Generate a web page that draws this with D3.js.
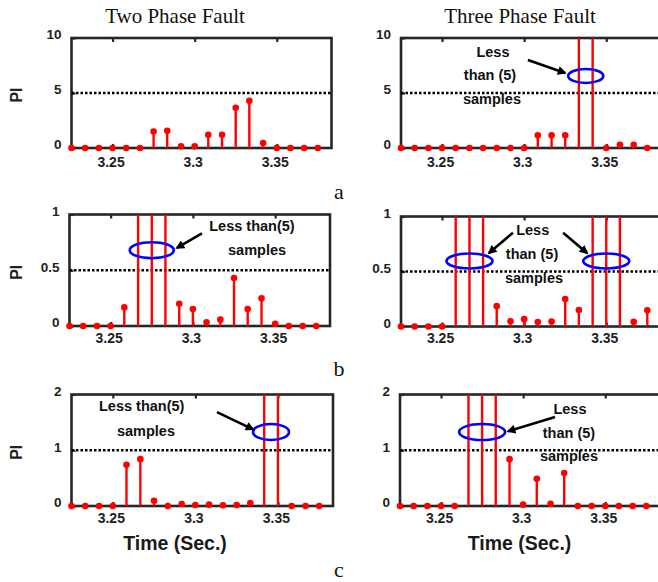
<!DOCTYPE html>
<html>
<head>
<meta charset="utf-8">
<script src="https://cdn.jsdelivr.net/npm/d3@7"></script>
<style>
    body { margin: 0; background: #fff; }
    svg { display: block; }
</style>
</head>
<body>
<div id="drawing_region"></div>
<script>
// sample instants (s)
const sampleTimes = [3.225, 3.2333, 3.2417, 3.25, 3.2583, 3.2667, 3.275, 3.2833, 3.2917, 3.3,
                     3.3083, 3.3167, 3.325, 3.3333, 3.3417, 3.35, 3.3583, 3.3667, 3.375];
const xTicks = [3.25, 3.3, 3.35];
const xTickLabels = ['3.25', '3.3', '3.35'];

// PI values, bars that leave the axis are given a value above its top
const twoPhaseA   = [0, 0, 0, 0, 0, 0, 1.5, 1.57, 0.15, 0.15, 1.2, 1.2, 3.65, 4.3, 0.45, 0, 0, 0, 0];
const threePhaseA = [0, 0, 0, 0, 0, 0, 0, 0, 0, 0, 1.15, 1.15, 1.15, 20, 20, 0, 0.3, 0.3, 0];
const twoPhaseB   = [0, 0, 0, 0, 0.167, 3, 3, 3, 0.2, 0.152, 0.033, 0.057, 0.43, 0.152, 0.248, 0.02, 0, 0, 0];
const threePhaseB = [0, 0, 0, 0, 3, 3, 3, 0.185, 0.048, 0.067, 0.04, 0.045, 0.25, 0.15, 3, 3, 3, 0.042, 0.148];
const twoPhaseC   = [0, 0, 0, 0, 0.74, 0.84, 0.095, 0, 0.036, 0.018, 0.024, 0.012, 0.018, 0.054, 5, 5, 0, 0, 0];
const threePhaseC = [0, 0, 0, 0, 0, 5, 5, 5, 0.84, 0.024, 0.49, 0.04, 0.59, 0, 0, 0, 0, 0, 0];

const yMaxes = [10, 1, 2];
const yTicks = [[0, 5, 10], [0, 0.5, 1], [0, 1, 2]];
const yTickLabels = [['0', '5', '10'], ['0', '0.5', '1'], ['0', '1', '2']];
const thresholds = [5, 0.5, 1];

const columnTitles = ['Two Phase Fault', 'Three Phase Fault'];
const rowLabels = ['a', 'b', 'c'];

// annotations in data units: ring [t, v], arrow [t1, v1, t2, v2], words [text, t, v]
const notesA2 = {
    rings: [[3.3375, 6.55]],
    arrows: [[3.3023, 8.0, 3.3249, 6.82]],
    words: [['Less', 3.281, 8.27], ['than (5)', 3.2792, 6.18], ['samples', 3.2804, 4.0]] };
const notesB1 = {
    rings: [[3.275, 0.68]],
    arrows: [[3.3055, 0.83, 3.2903, 0.70]],
    words: [['Less than(5)', 3.3359, 0.85], ['samples', 3.339, 0.634]] };
const notesB2 = {
    rings: [[3.2667, 0.595], [3.35, 0.595]],
    arrows: [[3.2932, 0.853, 3.2786, 0.668], [3.3237, 0.853, 3.3383, 0.668]],
    words: [['Less', 3.3052, 0.832], ['than (5)', 3.3048, 0.614], ['samples', 3.306, 0.398]] };
const notesC1 = {
    rings: [[3.3458, 1.327]],
    arrows: [[3.3131, 1.684, 3.3349, 1.375]],
    words: [['Less than(5)', 3.2675, 1.702], ['samples', 3.2701, 1.256]] };
const notesC2 = {
    rings: [[3.275, 1.327]],
    arrows: [[3.3194, 1.595, 3.2908, 1.34]],
    words: [['Less', 3.3285, 1.656], ['than (5)', 3.3279, 1.22], ['samples', 3.3279, 0.809]] };

const W = 658, H = 582;
const svg = d3.select('#drawing_region').append('svg')
    .attr('width', W).attr('height', H)
    .style('background', '#fff');

svg.append('defs').append('marker')
    .attr('id', 'arrowhead')
    .attr('viewBox', '0 0 10 10')
    .attr('refX', 8).attr('refY', 5)
    .attr('markerWidth', 12).attr('markerHeight', 9)
    .attr('markerUnits', 'userSpaceOnUse')
    .attr('orient', 'auto')
    .append('path')
    .attr('d', 'M0,0 L10,5 L0,10 z')
    .attr('fill', '#000');

class StemChart {

    constructor( config, values ) {
        this.config = config;
        this.values = values;
        this.init();
    }

    init() {
        let self = this;
        let c = self.config;

        self.right = c.left + c.width;
        self.bottom = c.top + c.height;

        self.xscale = d3.scaleLinear()
            .domain([3.225, 3.38333])
            .range([c.left, self.right]);

        self.yscale = d3.scaleLinear()
            .domain([0, c.ymax])
            .range([self.bottom, c.top]);

        self.g = svg.append('g');

        self.g.append('clipPath')
            .attr('id', c.id + '_clip')
            .append('rect')
            .attr('x', c.left - 6)
            .attr('y', c.top)
            .attr('width', c.width + 12)
            .attr('height', c.height + 6);
    }

    render() {
        let self = this;
        let c = self.config;

        // frame
        self.g.append('rect')
            .attr('x', c.left).attr('y', c.top)
            .attr('width', c.width).attr('height', c.height)
            .attr('fill', 'none')
            .attr('stroke', '#262626')
            .attr('stroke-width', 2.6);

        // inward ticks on top
        self.g.append('g')
            .attr('transform', `translate(0, ${c.top})`)
            .call( d3.axisTop(self.xscale).tickValues(xTicks).tickSizeInner(-4).tickSizeOuter(0).tickFormat('') )
            .call( g => g.select('.domain').remove() )
            .selectAll('line').attr('stroke', '#262626').attr('stroke-width', 2.2);

        // bottom axis labels
        const xaxis = self.g.append('g')
            .attr('transform', `translate(0, ${self.bottom})`)
            .call( d3.axisBottom(self.xscale)
                .tickValues(xTicks)
                .tickSizeInner(-4).tickSizeOuter(0)
                .tickPadding(c.xpad)
                .tickFormat((d, i) => xTickLabels[i]) );
        xaxis.select('.domain').remove();
        xaxis.selectAll('line').attr('stroke', '#262626').attr('stroke-width', 2.2);
        xaxis.selectAll('text')
            .attr('dx', -2)
            .attr('font-size', 14)
            .attr('font-weight', 'bold')
            .attr('font-family', '"Liberation Sans", Arial, sans-serif')
            .attr('fill', '#222');

        // left axis labels
        const yaxis = self.g.append('g')
            .attr('transform', `translate(${c.left}, 0)`)
            .call( d3.axisLeft(self.yscale)
                .tickValues(c.yticks)
                .tickSizeInner(-4).tickSizeOuter(0)
                .tickPadding(10)
                .tickFormat((d, i) => c.yticklabels[i]) );
        yaxis.select('.domain').remove();
        yaxis.selectAll('line').attr('stroke', '#262626').attr('stroke-width', 2.2);
        yaxis.selectAll('text')
            .attr('dy', '0.06em')
            .attr('font-size', 13.5)
            .attr('font-weight', 'bold')
            .attr('font-family', '"Liberation Sans", Arial, sans-serif')
            .attr('fill', '#222');

        // threshold
        self.g.append('line')
            .attr('x1', c.left).attr('x2', self.right)
            .attr('y1', self.yscale(c.threshold)).attr('y2', self.yscale(c.threshold))
            .attr('stroke', '#000')
            .attr('stroke-width', 2.6)
            .attr('stroke-dasharray', '2.5,2');

        // stems
        const marks = self.g.append('g').attr('clip-path', `url(#${c.id}_clip)`);

        marks.selectAll('line')
            .data(self.values)
            .join('line')
            .attr('x1', (d, i) => self.xscale(sampleTimes[i]))
            .attr('x2', (d, i) => self.xscale(sampleTimes[i]))
            .attr('y1', self.yscale(0))
            .attr('y2', d => self.yscale(d))
            .attr('stroke', '#ff0000')
            .attr('stroke-width', 2.4);

        marks.selectAll('circle')
            .data(self.values)
            .join('circle')
            .attr('cx', (d, i) => self.xscale(sampleTimes[i]))
            .attr('cy', d => self.yscale(d))
            .attr('r', 3.3)
            .attr('fill', '#ff0000');

        if (c.ylabel) {
            self.g.append('text')
                .attr('transform', `translate(22, ${(c.top + self.bottom) / 2 + 2}) rotate(-90)`)
                .attr('text-anchor', 'middle')
                .attr('font-size', 16)
                .attr('font-weight', 'bold')
                .attr('font-family', '"Liberation Sans", Arial, sans-serif')
                .attr('fill', '#222')
                .text('PI');
        }

        if (c.notes) self.annotate(c.notes);
    }

    annotate( notes ) {
        let self = this;
        let c = self.config;

        self.g.selectAll('ellipse')
            .data(notes.rings)
            .join('ellipse')
            .attr('cx', d => self.xscale(d[0]))
            .attr('cy', d => self.yscale(d[1]))
            .attr('rx', c.ring[0])
            .attr('ry', c.ring[1])
            .attr('fill', 'none')
            .attr('stroke', '#0000ff')
            .attr('stroke-width', 2.6);

        self.g.selectAll('line.arrow')
            .data(notes.arrows)
            .join('line')
            .attr('class', 'arrow')
            .attr('x1', d => self.xscale(d[0]))
            .attr('y1', d => self.yscale(d[1]))
            .attr('x2', d => self.xscale(d[2]))
            .attr('y2', d => self.yscale(d[3]))
            .attr('stroke', '#000')
            .attr('stroke-width', 2.6)
            .attr('marker-end', 'url(#arrowhead)');

        self.g.selectAll('text.note')
            .data(notes.words)
            .join('text')
            .attr('class', 'note')
            .attr('x', d => self.xscale(d[1]))
            .attr('y', d => self.yscale(d[2]))
            .attr('text-anchor', 'middle')
            .attr('font-size', 14.5)
            .attr('font-weight', 'bold')
            .attr('font-family', '"Liberation Sans", Arial, sans-serif')
            .attr('fill', '#111')
            .text(d => d[0]);
    }
}

const panels = [
    { id: 'a1', left: 71.5, top: 38,    width: 260, height: 110, row: 0, values: twoPhaseA,   ylabel: true,  xpad: 9,  notes: null,    ring: [0, 0] },
    { id: 'a2', left: 401,  top: 38,    width: 260, height: 110, row: 0, values: threePhaseA, ylabel: false, xpad: 9,  notes: notesA2, ring: [17.5, 7] },
    { id: 'b1', left: 69.5, top: 214.5, width: 260.5, height: 111.5, row: 1, values: twoPhaseB, ylabel: true,  xpad: 7, notes: notesB1, ring: [22, 8] },
    { id: 'b2', left: 401,  top: 216.5, width: 260, height: 110, row: 1, values: threePhaseB, ylabel: false, xpad: 7,  notes: notesB2, ring: [23, 7.5] },
    { id: 'c1', left: 71.5, top: 394.5, width: 261.5, height: 111.5, row: 2, values: twoPhaseC, ylabel: true,  xpad: 7, notes: notesC1, ring: [18, 8] },
    { id: 'c2', left: 400,  top: 394.5, width: 260, height: 111.5, row: 2, values: threePhaseC, ylabel: false, xpad: 7, notes: notesC2, ring: [23, 8] }
];

panels.forEach( p => {
    const chart = new StemChart({
        id: p.id,
        left: p.left, top: p.top, width: p.width, height: p.height,
        ymax: yMaxes[p.row],
        yticks: yTicks[p.row],
        yticklabels: yTickLabels[p.row],
        threshold: thresholds[p.row],
        ylabel: p.ylabel,
        xpad: p.xpad,
        notes: p.notes,
        ring: p.ring
    }, p.values);
    chart.render();
});

// column titles
svg.selectAll('text.title')
    .data(columnTitles)
    .join('text')
    .attr('class', 'title')
    .attr('x', (d, i) => [175, 520][i])
    .attr('y', 23)
    .attr('text-anchor', 'middle')
    .attr('font-size', 21)
    .attr('font-family', '"Liberation Serif", "Times New Roman", serif')
    .attr('fill', '#111')
    .text(d => d);

// x axis titles under the bottom row
svg.selectAll('text.xtitle')
    .data([175, 519.5])
    .join('text')
    .attr('class', 'xtitle')
    .attr('x', d => d)
    .attr('y', 550)
    .attr('text-anchor', 'middle')
    .attr('font-size', 19.5)
    .attr('font-weight', 'bold')
    .attr('font-family', '"Liberation Sans", Arial, sans-serif')
    .attr('fill', '#1a1a1a')
    .text('Time (Sec.)');

// row letters
svg.selectAll('text.rowlabel')
    .data(rowLabels)
    .join('text')
    .attr('class', 'rowlabel')
    .attr('x', 339)
    .attr('y', (d, i) => [199, 376, 577][i])
    .attr('text-anchor', 'middle')
    .attr('font-size', 22)
    .attr('font-family', '"Liberation Serif", "Times New Roman", serif')
    .attr('fill', '#111')
    .text(d => d);
</script>
</body>
</html>
